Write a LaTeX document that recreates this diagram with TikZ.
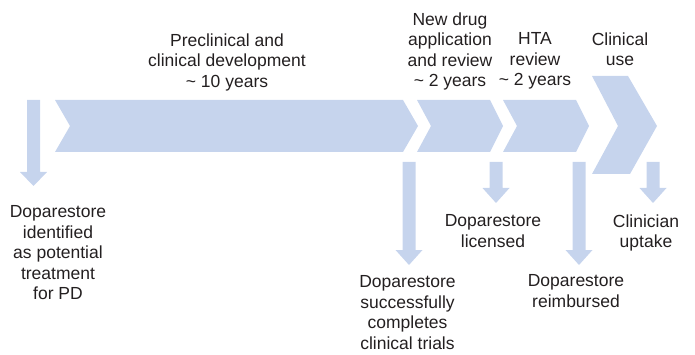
\documentclass[tikz,border=0pt]{standalone}
\usepackage{fontspec}
\setmainfont{Liberation Sans}
\usepackage{xcolor}
\usepackage{tikz}
\usetikzlibrary{calc}
\usetikzlibrary{positioning}
\definecolor{stageblue}{RGB}{198,212,237}
\definecolor{textgrey}{RGB}{35,31,32}
\tikzstyle{stagebox}=[fill=stageblue, draw=none]
\tikzstyle{phasetext}=[text=textgrey, align=center, inner sep=0pt, anchor=north, font=\fontsize{17.5}{20.5}\selectfont]
\tikzstyle{eventtext}=[phasetext]
\newcommand*{\downblock}[4]{\fill[stagebox] (#1-6.5,#2) -- (#1+6.5,#2) -- (#1+6.5,#3) -- (#1+13.5,#3) -- (#1,#4) -- (#1-13.5,#3) -- (#1-6.5,#3) -- cycle;}

\begin{document}
\begin{tikzpicture}[x=1pt, y=-1pt]
\useasboundingbox (0,0) rectangle (695,355);

% chevrons
\fill[stagebox] (55,100) -- (403,100) -- (418,126) -- (403,152) -- (55,152) -- (70,126) -- cycle;
\fill[stagebox] (417,100) -- (490,100) -- (503,126) -- (490,152) -- (417,152) -- (431,126) -- cycle;
\fill[stagebox] (503,100) -- (576,100) -- (589,126) -- (576,152) -- (503,152) -- (517,126) -- cycle;
\fill[stagebox] (592,76) -- (628,76) -- (657,126) -- (630,174) -- (592,174) -- (618,126) -- cycle;

% down arrows
\downblock{33.5}{100}{172}{186}
\downblock{409}{162}{250}{265}
\downblock{496}{162}{188}{203}
\downblock{579}{162}{250}{265}
\downblock{653}{162}{188}{203}

% phases
\node [phasetext] (dev) at (227,33.3) {Preclinical and\\clinical development\\\textasciitilde{} 10 years};
\node [phasetext] (nda) at (450,12.3) {New drug\\application\\and review\\\textasciitilde{} 2 years};
\node [phasetext] (hta) at (535,32.3) {HTA\\review\\\textasciitilde{} 2 years};
\node [phasetext] (use) at (620,32.3) {Clinical\\use};

% events
\node [eventtext] (found) at (58,205.3) {Doparestore\\identified\\as potential\\treatment\\for PD};
\node [eventtext] (trials) at (407.5,275.3) {Doparestore\\successfully\\completes\\clinical trials};
\node [eventtext] (licence) at (493,214.3) {Doparestore\\licensed};
\node [eventtext] (reimb) at (576,274.3) {Doparestore\\reimbursed};
\node [eventtext] (uptake) at (646,214.3) {Clinician\\uptake};
\end{tikzpicture}
\end{document}
